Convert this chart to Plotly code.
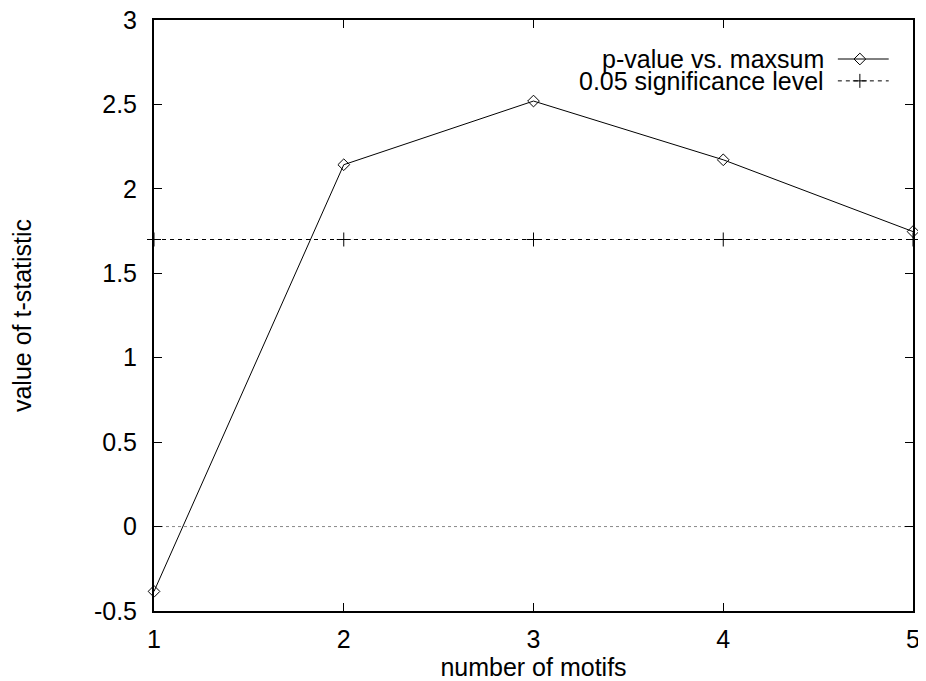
import plotly.graph_objects as go

motifs = [1, 2, 3, 4, 5]
t_values = [-0.384, 2.143, 2.52, 2.172, 1.747]
significance = [1.70, 1.70, 1.70, 1.70, 1.70]
y_ticks = [-0.5, 0, 0.5, 1, 1.5, 2, 2.5, 3]
y_tick_labels = ["-0.5", "0", "0.5", "1", "1.5", "2", "2.5", "3"]
x_ticks = [1, 2, 3, 4, 5]
legend_names = ["p-value vs. maxsum", "0.05 significance level"]

FONT = "Liberation Sans, Arial, Helvetica, sans-serif"

fig = go.Figure()

# zero line (dotted)
fig.add_shape(type="line", xref="x", yref="y", x0=1, x1=5, y0=0, y1=0,
              line=dict(color="#888888", width=1, dash="dot"), layer="below")

fig.add_trace(go.Scatter(
    x=motifs, y=significance, mode="lines+markers",
    line=dict(color="black", width=1, dash="4px,4px"),
    marker=dict(symbol="cross-thin-open", size=10, color="black",
                line=dict(color="black", width=1)),
    showlegend=False, cliponaxis=False))

fig.add_trace(go.Scatter(
    x=motifs, y=t_values, mode="lines+markers",
    line=dict(color="black", width=1),
    marker=dict(symbol="diamond-open", size=9, color="black",
                line=dict(color="black", width=1)),
    showlegend=False, cliponaxis=False))

# gnuplot-style key: text then sample line
key_rows = [0.934, 0.897]
for i, (name, yy) in enumerate(zip(legend_names, key_rows)):
    fig.add_annotation(x=0.8855, y=yy, xref="paper", yref="paper", text=name,
                       showarrow=False, xanchor="right", yanchor="middle",
                       font=dict(family=FONT, size=25, color="black"))
    fig.add_shape(type="line", xref="paper", yref="paper", x0=0.901, x1=0.968, y0=yy, y1=yy,
                  line=dict(color="black", width=1, dash="solid" if i == 0 else "4px,4px"))
fig.add_trace(go.Scatter(
    x=[0.930], y=[key_rows[0]], xaxis="x2", yaxis="y2", mode="markers",
    marker=dict(symbol="diamond-open", size=9, color="black", line=dict(color="black", width=1)),
    showlegend=False, hoverinfo="skip", cliponaxis=False))
fig.add_trace(go.Scatter(
    x=[0.930], y=[key_rows[1]], xaxis="x2", yaxis="y2", mode="markers",
    marker=dict(symbol="cross-thin-open", size=10, color="black", line=dict(color="black", width=1)),
    showlegend=False, hoverinfo="skip", cliponaxis=False))

fig.update_layout(
    width=918, height=673,
    margin=dict(l=146, r=13, t=12, b=70, autoexpand=False),
    paper_bgcolor="white", plot_bgcolor="white",
    font=dict(family=FONT, size=25, color="black"),
    xaxis=dict(range=[1, 5], tickvals=x_ticks, ticktext=[str(v) for v in x_ticks],
               ticks="inside", ticklen=8, tickcolor="black", showline=True, linecolor="black",
               linewidth=2, mirror="ticks", showgrid=False, zeroline=False,
               ticklabelstandoff=5, tickfont=dict(size=25), ticklabeloverflow="allow",
               automargin=False,
               title=dict(text="number of motifs", standoff=11, font=dict(size=25))),
    yaxis=dict(range=[-0.5, 3], tickvals=y_ticks, ticktext=y_tick_labels,
               ticks="inside", ticklen=8, tickcolor="black", showline=True, linecolor="black",
               linewidth=2, mirror="ticks", showgrid=False, zeroline=False,
               ticklabelstandoff=10, tickfont=dict(size=25), ticklabeloverflow="allow",
               automargin=False,
               title=dict(text="value of t-statistic", standoff=61, font=dict(size=25))),
    xaxis2=dict(range=[0, 1], overlaying="x", visible=False),
    yaxis2=dict(range=[0, 1], overlaying="y", visible=False),
)

fig.write_html("out.html")
